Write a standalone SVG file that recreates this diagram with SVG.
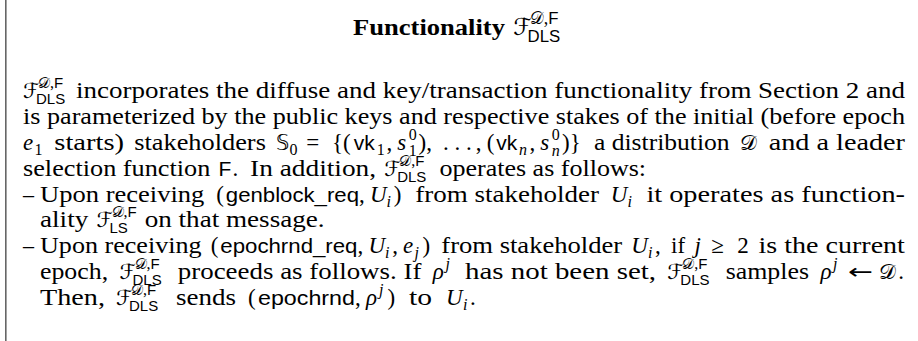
<svg xmlns="http://www.w3.org/2000/svg" xmlns:xlink="http://www.w3.org/1999/xlink" width="918" height="341" viewBox="0 0 918 341">
  <style>
    text { fill: #000; }
    .r { font-family: "Liberation Serif", serif; font-size: 23px; }
    .i { font-style: italic; }
    .b { font-weight: bold; }
    .s { font-family: "Liberation Sans", sans-serif; font-size: 21px; }
    .c { font-family: "DejaVu Sans", "DejaVu Serif", serif; font-size: 21px; }
    .sm { font-size: 16px; }
    .ss { font-size: 15px; }
  </style>
  <defs>
    <!-- functionality symbol F^{D,F}_{DLS} -->
    <g id="fdls">
      <text class="c" x="0" y="0">ℱ</text>
      <text class="c ss" x="15" y="-10">𝒟<tspan class="r sm">,</tspan><tspan class="s ss">F</tspan></text>
      <text class="s ss" x="13" y="6">DLS</text>
    </g>
    <!-- functionality symbol F^{D,F}_{LS} -->
    <g id="fls">
      <text class="c" x="0" y="0">ℱ</text>
      <text class="c ss" x="15" y="-10">𝒟<tspan class="r sm">,</tspan><tspan class="s ss">F</tspan></text>
      <text class="s ss" x="13" y="6">LS</text>
    </g>
  </defs>

  <rect x="5" y="0" width="1.6" height="341" fill="#666"/>

  <!-- title -->
  <g id="title">
    <text class="r b" x="353" y="35" font-size="22" textLength="152" lengthAdjust="spacingAndGlyphs">Functionality</text>
    <use xlink:href="#fdls" transform="translate(513 35) scale(1.12)"/>
  </g>

  <!-- opening paragraph -->
  <g id="body">
    <use xlink:href="#fdls" x="23" y="98"/>
    <text class="r" x="76" y="98" textLength="829" lengthAdjust="spacingAndGlyphs">incorporates the diffuse and key/transaction functionality from Section 2 and</text>

    <text class="r" x="23" y="124" textLength="882" lengthAdjust="spacingAndGlyphs">is parameterized by the public keys and respective stakes of the initial (before epoch</text>

    <text class="r i" x="23" y="150">e</text><text class="r sm" x="34.4" y="155">1</text>
    <text class="r" x="54.3" y="150" textLength="69.8" lengthAdjust="spacingAndGlyphs">starts)</text>
    <text class="r" x="134.2" y="150" textLength="131.7" lengthAdjust="spacingAndGlyphs">stakeholders</text>
    <text class="c" x="276" y="150">𝕊</text><text class="r sm" x="289.6" y="155">0</text>
    <text class="r" x="306.2" y="150">=</text>
    <text class="r" x="332" y="150">{(</text>
    <text class="s" x="353.8" y="150">vk</text><text class="r sm" x="376.7" y="155">1</text>
    <text class="r" x="386.4" y="150">,</text>
    <text class="r i" x="397.3" y="150">s</text><text class="r sm" x="408.8" y="140">0</text><text class="r sm" x="408.8" y="156">1</text>
    <text class="r" x="418.6" y="150">),</text>
    <text class="r" x="443.1" y="150">. . .</text>
    <text class="r" x="475.8" y="150">,</text>
    <text class="r" x="486.7" y="150">(</text>
    <text class="s" x="496.3" y="150">vk</text><text class="r i sm" x="519.1" y="155">n</text>
    <text class="r" x="529.4" y="150">,</text>
    <text class="r i" x="540.3" y="150">s</text><text class="r sm" x="551.8" y="140">0</text><text class="r i sm" x="551.8" y="156">n</text>
    <text class="r" x="562.1" y="150">)}</text>
    <text class="r" x="594" y="150" textLength="135.6" lengthAdjust="spacingAndGlyphs">a distribution</text>
    <text class="c" x="739.7" y="150">𝒟</text>
    <text class="r" x="768.7" y="150" textLength="136.3" lengthAdjust="spacingAndGlyphs">and a leader</text>

    <text class="r" x="23" y="176" textLength="187.3" lengthAdjust="spacingAndGlyphs">selection function</text>
    <text class="s" x="218.5" y="176">F</text>
    <text class="r" x="232.4" y="176">.</text>
    <text class="r" x="250.1" y="176" textLength="126" lengthAdjust="spacingAndGlyphs">In addition,</text>
    <use xlink:href="#fdls" x="384.2" y="176"/>
    <text class="r" x="439.4" y="176" textLength="206.7" lengthAdjust="spacingAndGlyphs">operates as follows:</text>
  </g>

  <!-- first item -->
  <g id="item1">
    <text class="r" x="23" y="202" textLength="11" lengthAdjust="spacingAndGlyphs">–</text>
    <text class="r" x="40" y="202" textLength="164.4" lengthAdjust="spacingAndGlyphs">Upon receiving</text>
    <text class="r" x="216.3" y="202">(</text>
    <text class="s" x="225.8" y="202" textLength="133.2" lengthAdjust="spacingAndGlyphs">genblock_req</text>
    <text class="r" x="359" y="202">,</text>
    <text class="r i" x="369.9" y="202">U</text><text class="r i sm" x="386.6" y="207">i</text>
    <text class="r" x="393.7" y="202">)</text>
    <text class="r" x="415.2" y="202" textLength="183.7" lengthAdjust="spacingAndGlyphs">from stakeholder</text>
    <text class="r i" x="610.7" y="202">U</text><text class="r i sm" x="627.4" y="207">i</text>
    <text class="r" x="646.4" y="202" textLength="258.6" lengthAdjust="spacingAndGlyphs">it operates as function-</text>

    <text class="r" x="40" y="227" textLength="48.3" lengthAdjust="spacingAndGlyphs">ality</text>
    <use xlink:href="#fls" x="96.5" y="227"/>
    <text class="r" x="144.7" y="227" textLength="179.9" lengthAdjust="spacingAndGlyphs">on that message.</text>
  </g>

  <!-- second item -->
  <g id="item2">
    <text class="r" x="23" y="253" textLength="11" lengthAdjust="spacingAndGlyphs">–</text>
    <text class="r" x="40" y="253" textLength="161.6" lengthAdjust="spacingAndGlyphs">Upon receiving</text>
    <text class="r" x="210.7" y="253">(</text>
    <text class="s" x="220.3" y="253" textLength="137.2" lengthAdjust="spacingAndGlyphs">epochrnd_req</text>
    <text class="r" x="357.5" y="253">,</text>
    <text class="r i" x="368.4" y="253">U</text><text class="r i sm" x="385.1" y="258">i</text>
    <text class="r" x="392.2" y="253">,</text>
    <text class="r i" x="403.1" y="253">e</text><text class="r i sm" x="414.5" y="258">j</text>
    <text class="r" x="422.6" y="253">)</text>
    <text class="r" x="441.3" y="253" textLength="180.9" lengthAdjust="spacingAndGlyphs">from stakeholder</text>
    <text class="r i" x="631.3" y="253">U</text><text class="r i sm" x="648" y="258">i</text>
    <text class="r" x="655.1" y="253">,</text>
    <text class="r" x="671" y="253">if</text>
    <text class="r i" x="694.4" y="253">j</text>
    <text class="r" x="711.3" y="253">≥</text>
    <text class="r" x="737.2" y="253">2</text>
    <text class="r" x="758.5" y="253" textLength="146.4" lengthAdjust="spacingAndGlyphs">is the current</text>

    <text class="r" x="40" y="279" textLength="68.1" lengthAdjust="spacingAndGlyphs">epoch,</text>
    <use xlink:href="#fdls" x="119.5" y="279"/>
    <text class="r" x="177.8" y="279" textLength="243.6" lengthAdjust="spacingAndGlyphs">proceeds as follows. If</text>
    <text class="r i" x="432.8" y="279">ρ</text><text class="r i sm" x="445.5" y="269">j</text>
    <text class="r" x="465" y="279" textLength="191" lengthAdjust="spacingAndGlyphs">has not been set,</text>
    <use xlink:href="#fdls" x="667.3" y="279"/>
    <text class="r" x="725.7" y="279" textLength="83.3" lengthAdjust="spacingAndGlyphs">samples</text>
    <text class="r i" x="820.4" y="279">ρ</text><text class="r i sm" x="833" y="269">j</text>
    <text class="c" x="848" y="279" textLength="25" lengthAdjust="spacingAndGlyphs">←</text>
    <text class="c" x="879.3" y="279">𝒟</text>
    <text class="r" x="898.2" y="279">.</text>

    <text class="r" x="40" y="305" textLength="65" lengthAdjust="spacingAndGlyphs">Then,</text>
    <use xlink:href="#fdls" x="116" y="305"/>
    <text class="r" x="176" y="305" textLength="60" lengthAdjust="spacingAndGlyphs">sends</text>
    <text class="r" x="248" y="305">(</text>
    <text class="s" x="258" y="305" textLength="97" lengthAdjust="spacingAndGlyphs">epochrnd</text>
    <text class="r" x="355" y="305">,</text>
    <text class="r i" x="366" y="305">ρ</text><text class="r i sm" x="379" y="295">j</text>
    <text class="r" x="387.5" y="305">)</text>
    <text class="r" x="409" y="305" textLength="23" lengthAdjust="spacingAndGlyphs">to</text>
    <text class="r i" x="446" y="305">U</text><text class="r i sm" x="463" y="310">i</text>
    <text class="r" x="470" y="305">.</text>
  </g>
</svg>
